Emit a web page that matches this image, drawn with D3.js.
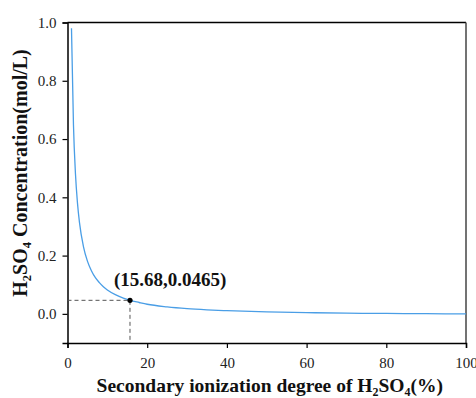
<!DOCTYPE html>
<html>
<head>
  <script src="https://d3js.org/d3.v7.min.js"></script>
  <style>
    body { margin: 0; background: #fff; }
  </style>
</head>
<body>
<div id="chart"></div>
<script>
// ionization degree (%) and H2SO4 concentration (mol/L)
var degree = [1, 1.5, 2, 2.5, 3, 4, 5, 6, 7, 8, 9, 10, 12, 14, 15.68, 18, 20, 25, 30, 35, 40, 50, 60, 70, 80, 90, 100];
var conc = [0.980, 0.647, 0.480, 0.381, 0.314, 0.231, 0.181, 0.148, 0.124, 0.107, 0.093, 0.082, 0.066, 0.054, 0.0465, 0.039, 0.033, 0.024, 0.018, 0.014, 0.011, 0.0067, 0.0042, 0.0025, 0.0014, 0.0006, 0];
var marked = [15.68, 0.0465];
var xTicks = [0, 20, 40, 60, 80, 100];
var yTicks = [0.0, 0.2, 0.4, 0.6, 0.8, 1.0];

var W = 476, H = 398;
var margin = {left: 67.5, right: 10, top: 22.5, bottom: 55};
var serif = "'Liberation Serif', 'Times New Roman', serif";

var svg = d3.select("#chart").append("svg").attr("width", W).attr("height", H)
  .attr("font-family", serif);

var x = d3.scaleLinear().domain([0, 100]).range([margin.left, W - margin.right]);
var y = d3.scaleLinear().domain([-0.1, 1.0]).range([H - margin.bottom, margin.top]);

var data = degree.map(function(d, i){ return [d, conc[i]]; });

// frame top / right
svg.append("line").attr("x1", x(0)).attr("x2", x(100)).attr("y1", y(1)).attr("y2", y(1))
  .attr("stroke", "#000").attr("stroke-width", 1.5);
svg.append("line").attr("x1", x(100)).attr("x2", x(100)).attr("y1", y(1)).attr("y2", y(-0.1))
  .attr("stroke", "#444").attr("stroke-width", 1.5);

// minor + major ticks
var gx = svg.append("g").attr("transform", "translate(0," + y(-0.1) + ")");
gx.call(d3.axisBottom(x).tickValues(d3.range(10, 100, 20)).tickSize(3).tickFormat(""));
gx.call(d3.axisBottom(x).tickValues(xTicks).tickSize(5).tickFormat(d3.format("d")));

var gy = svg.append("g").attr("transform", "translate(" + x(0) + ",0)");
gy.call(d3.axisLeft(y).tickValues([-0.1, 0.1, 0.3, 0.5, 0.7, 0.9]).tickSize(3).tickFormat(""));
gy.call(d3.axisLeft(y).tickValues(yTicks).tickSize(5).tickFormat(d3.format(".1f")));

svg.selectAll(".tick text").attr("font-family", serif).attr("font-size", 15).attr("fill", "#222");
gx.selectAll("text").attr("dy", "1.1em");
gy.selectAll("text").attr("dx", "-0.2em");
svg.selectAll(".domain").attr("stroke", "#000").attr("stroke-width", 1.5);
svg.selectAll(".tick line").attr("stroke", "#000").attr("stroke-width", 1.2);

// dashed guides
svg.append("path")
  .attr("d", "M" + x(0) + "," + y(marked[1]) + "H" + x(marked[0]) + "V" + y(-0.1))
  .attr("fill", "none").attr("stroke", "#555").attr("stroke-width", 1).attr("stroke-dasharray", "4,3");

// curve
var line = d3.line().x(function(d){ return x(d[0]); }).y(function(d){ return y(d[1]); }).curve(d3.curveMonotoneX);
svg.append("path").datum(data).attr("d", line)
  .attr("fill", "none").attr("stroke", "#4a9ee6").attr("stroke-width", 1.3);

svg.append("circle").attr("cx", x(marked[0])).attr("cy", y(marked[1])).attr("r", 2.6).attr("fill", "#000");

svg.append("text").attr("x", 114).attr("y", 286)
  .attr("font-size", 19).attr("font-weight", "bold").attr("fill", "#111")
  .text("(" + marked[0] + "," + marked[1] + ")");

// x title
var xt = svg.append("text").attr("x", (x(0) + x(100)) / 2 + 3).attr("y", 392)
  .attr("text-anchor", "middle").attr("font-size", 19.5).attr("font-weight", "bold").attr("fill", "#111");
xt.append("tspan").text("Secondary ionization degree of H");
xt.append("tspan").attr("font-size", 12).attr("dy", 4).text("2");
xt.append("tspan").attr("dy", -4).text("SO");
xt.append("tspan").attr("font-size", 12).attr("dy", 4).text("4");
xt.append("tspan").attr("dy", -4).text("(%)");

// y title
var yt = svg.append("text").attr("transform", "translate(27," + 173 + ") rotate(-90)")
  .attr("text-anchor", "middle").attr("font-size", 20).attr("font-weight", "bold").attr("fill", "#111");
yt.append("tspan").text("H");
yt.append("tspan").attr("font-size", 12.5).attr("dy", 4).text("2");
yt.append("tspan").attr("dy", -4).text("SO");
yt.append("tspan").attr("font-size", 12.5).attr("dy", 4).text("4");
yt.append("tspan").attr("dy", -4).text(" Concentration(mol/L)");
</script>
</body>
</html>
